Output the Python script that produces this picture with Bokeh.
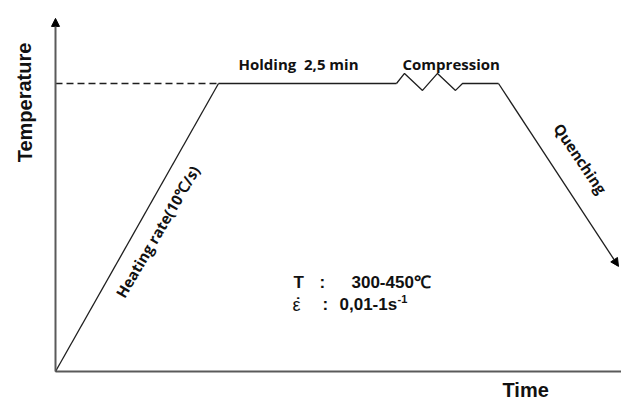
from bokeh.plotting import figure
from bokeh.models import Range1d, Label, Arrow, NormalHead
from bokeh.embed import file_html
from bokeh.resources import INLINE

# Thermal schedule (time in arbitrary units, temperature relative to the holding level)
heat_t = [0.0, 16.3]
heat_T = [0.0, 1.0]

hold_t = [16.3, 34.1]
hold_T = [1.0, 1.0]

comp_t = [34.1, 34.9, 36.7, 38.2, 40.0, 40.7, 44.3]
comp_T = [1.0, 1.035, 0.976, 1.035, 0.976, 1.0, 1.0]

quench_t = [44.3, 56.3]
quench_T = [1.0, 0.365]

guide_t = [0.0, 16.3]
guide_T = [1.0, 1.0]

axis_t_end = 56.6
axis_T_end = 1.226

W, H = 621, 401
PX = 288  # pixels per temperature unit


def ty(py):
    """vertical position from a distance (px) below the top edge"""
    return (371 - py) / PX


p = figure(width=W, height=H, output_backend="svg", toolbar_location=None,
           x_range=Range1d(-5.5, 56.6), y_range=Range1d(-30 / PX, 371 / PX),
           x_axis_location=None, y_axis_location=None, min_border=0)
p.outline_line_color = None
p.xgrid.visible = False
p.ygrid.visible = False
p.background_fill_color = "white"
p.border_fill_color = "white"

axis_col = "#5a5a5a"
line_col = "#1e1e1e"
ink = "#111111"

# axes
p.line([0, axis_t_end], [0, 0], line_color=axis_col, line_width=2)
p.add_layout(Arrow(end=NormalHead(size=8, fill_color="black", line_color="black"),
                   x_start=0, y_start=0, x_end=0, y_end=axis_T_end,
                   line_color=axis_col, line_width=2))

# dashed guide to the temperature axis
p.line(guide_t, guide_T, line_color=line_col, line_width=1.3, line_dash="7 4")

# heating, holding, compression
p.line(heat_t, heat_T, line_color=line_col, line_width=1.3)
p.line(hold_t, hold_T, line_color=line_col, line_width=1.3)
p.line(comp_t, comp_T, line_color=line_col, line_width=1.3)

# quenching with arrow
p.add_layout(Arrow(end=NormalHead(size=8, fill_color="black", line_color="black"),
                   x_start=quench_t[0], y_start=quench_T[0],
                   x_end=quench_t[1], y_end=quench_T[1],
                   line_color=line_col, line_width=1.3))


def lab(text, x, y, size, font="Open Sans", angle=0.0, align="left", style="bold"):
    p.add_layout(Label(x=x, y=y, text=text, text_font=font, text_font_size=f"{size}px",
                       text_font_style=style, text_color=ink, angle=angle,
                       text_align=align, text_baseline="middle"))


# axis titles
lab("Temperature", -3.1, ty(102), 20, font="Liberation Sans", angle=1.5708, align="center")
lab("Time", 44.7, ty(389), 20, font="Liberation Sans")

# stage annotations
lab("Holding\u00a0\u00a02,5 min", 18.3, ty(63), 15)
lab("Compression", 34.7, ty(63), 15)
lab("Heating rate(10\u2103/s)", 10.2, ty(231), 15, angle=1.04, align="center")
lab("Quenching", 52.5, ty(158), 15, angle=-0.977, align="center")

# process window
lab("T", 23.8, ty(282), 17, font="Liberation Sans")
lab(":", 26.4, ty(282), 17, font="Liberation Sans")
lab("300-450\u2103", 29.6, ty(282), 17, font="Liberation Sans")
lab("\u03b5", 23.7, ty(304), 18, font="Liberation Sans", style="normal")
lab("\u02d9", 24.0, ty(303), 16, font="Liberation Sans")
lab(":", 26.7, ty(304), 17, font="Liberation Sans")
lab("0,01-1s", 28.4, ty(304), 17, font="Liberation Sans")
lab("-1", 34.2, ty(298), 11, font="Liberation Sans")

open("out.html", "w").write(file_html(p, INLINE))
